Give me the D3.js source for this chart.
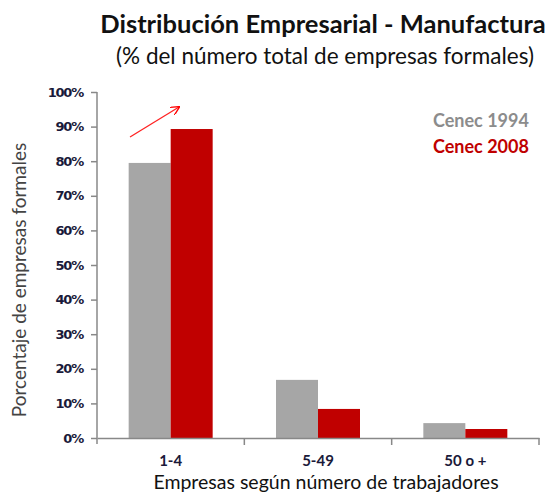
<!DOCTYPE html>
<html>
<head>
<meta charset="utf-8">
<script src="https://cdn.jsdelivr.net/npm/d3@7"></script>
<style>
  body { margin: 0; background: #fff; }
  text { font-family: Lato, "Open Sans", sans-serif; }
</style>
</head>
<body>
<svg width="552" height="495"></svg>
<script>
var categories = ["1-4", "5-49", "50 o +"];
var series = ["Cenec 1994", "Cenec 2008"];
var values1994 = [79.5, 16.8, 4.3];
var values2008 = [89.3, 8.4, 2.6];
var yTicks = [0, 10, 20, 30, 40, 50, 60, 70, 80, 90, 100];
var colors = ["#A6A6A6", "#C00000"];

var svg = d3.select("svg");
var margin = {left: 97, right: 13, top: 92, bottom: 57};
var width = 552 - margin.left - margin.right;
var height = 495 - margin.top - margin.bottom;

var data = categories.map(function(c, i) {
  return {cat: c, vals: [values1994[i], values2008[i]]};
});

var x = d3.scaleBand().domain(categories).range([0, width]);
var xInner = d3.scaleBand().domain(series).range([0, 84]);
var y = d3.scaleLinear().domain([0, 100]).range([height, 0]);

var g = svg.append("g").attr("transform", "translate(" + margin.left + "," + margin.top + ")");

// bars
var group = g.selectAll(".cat").data(data).enter().append("g")
  .attr("transform", function(d) {
    return "translate(" + (x(d.cat) + (x.bandwidth() - 84) / 2) + ",0)";
  });
group.selectAll("rect").data(function(d) {
  return d.vals.map(function(v, i) { return {s: series[i], v: v, i: i}; });
}).enter().append("rect")
  .attr("x", function(d) { return xInner(d.s); })
  .attr("width", xInner.bandwidth())
  .attr("y", function(d) { return y(d.v); })
  .attr("height", function(d) { return height - y(d.v); })
  .attr("fill", function(d) { return colors[d.i]; });

// y axis
var yAxis = g.append("g")
  .call(d3.axisLeft(y).tickValues(yTicks).tickSize(6).tickFormat(function(d) { return d + "%"; }));
yAxis.select(".domain").attr("stroke", "#888").attr("stroke-width", 1.5).attr("d", "M0," + (height + 6) + "V0");
yAxis.selectAll(".tick line").attr("stroke", "#888").attr("stroke-width", 1.5);
yAxis.selectAll(".tick text")
  .attr("x", -14)
  .style("font-family", "'DejaVu Sans', sans-serif")
  .style("font-size", "13px")
  .style("font-weight", "bold")
  .style("letter-spacing", "-1.2px")
  .attr("fill", "#1a1a3a");

// x axis
var xAxis = g.append("g").attr("transform", "translate(0," + height + ")")
  .call(d3.axisBottom(x).tickSize(0).tickPadding(17));
xAxis.select(".domain").attr("stroke", "#888").attr("stroke-width", 1.5);
xAxis.selectAll(".tick text")
  .style("font-size", "15px")
  .style("font-weight", "bold")
  .attr("fill", "#1a1a3a");
var bounds = categories.map(function(c) { return x(c) + x.bandwidth(); });
xAxis.selectAll(".bound").data(bounds).enter().append("line")
  .attr("x1", function(d) { return d; }).attr("x2", function(d) { return d; })
  .attr("y1", 0).attr("y2", 7)
  .attr("stroke", "#888").attr("stroke-width", 1.5);

// titles
svg.append("text").attr("x", 323).attr("y", 33).attr("text-anchor", "middle")
  .style("font-size", "25.5px").style("font-weight", "bold").attr("fill", "#111")
  .text("Distribución Empresarial - Manufactura");
svg.append("text").attr("x", 325).attr("y", 64).attr("text-anchor", "middle")
  .style("font-size", "22.5px").attr("fill", "#111")
  .text("(% del número total de empresas formales)");

svg.append("text").attr("x", 326).attr("y", 489).attr("text-anchor", "middle")
  .style("font-size", "19.5px").attr("fill", "#111")
  .text("Empresas según número de trabajadores");

svg.append("text")
  .attr("transform", "translate(26," + 280 + ") rotate(-90)")
  .attr("text-anchor", "middle")
  .style("font-size", "19px").attr("fill", "#444")
  .text("Porcentaje de empresas formales");

// legend
series.forEach(function(s, i) {
  svg.append("text").attr("x", 433).attr("y", 127 + i * 26)
    .style("font-size", "18px").style("font-weight", "bold")
    .attr("fill", i === 0 ? "#8c8c8c" : colors[1])
    .text(s);
});

// arrow
svg.append("defs").append("marker").attr("id", "ah")
  .attr("viewBox", "0 0 10 10").attr("refX", 9).attr("refY", 5)
  .attr("markerWidth", 7).attr("markerHeight", 7).attr("orient", "auto")
  .append("path").attr("d", "M0,0L10,5L0,10").attr("fill", "none").attr("stroke", "#f00").attr("stroke-width", 1.5);
svg.append("line")
  .attr("x1", 130).attr("y1", 137).attr("x2", 179).attr("y2", 107)
  .attr("stroke", "#f22").attr("stroke-width", 1.3)
  .attr("marker-end", "url(#ah)");
</script>
</body>
</html>
